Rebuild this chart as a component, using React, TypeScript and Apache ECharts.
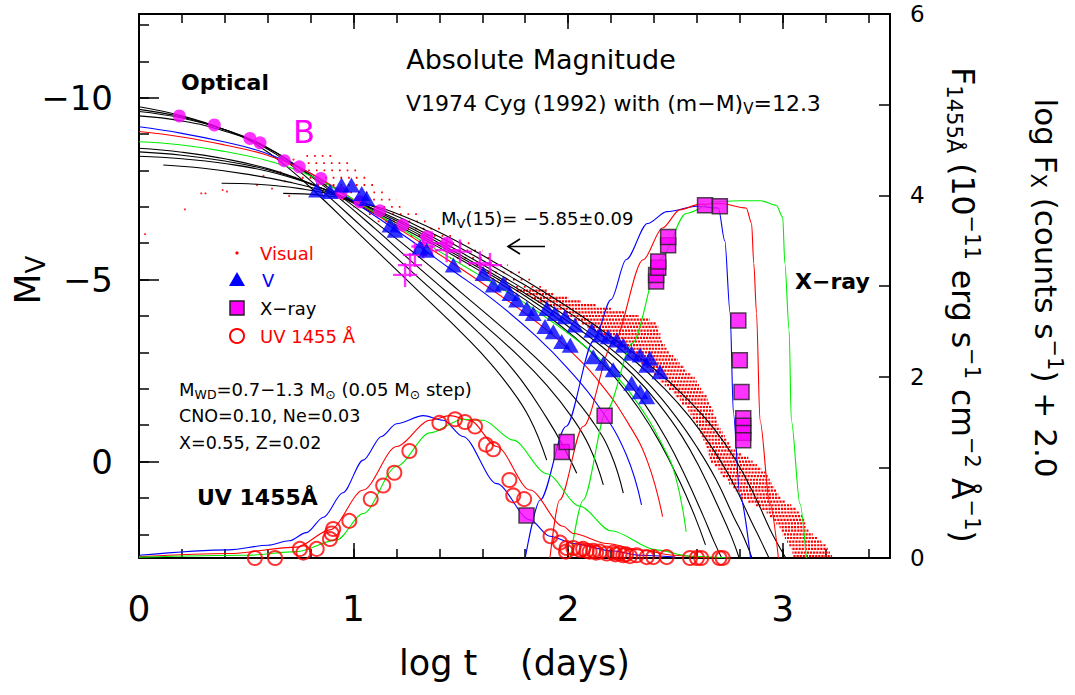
import React, { useEffect, useRef } from 'react';
import * as echarts from 'echarts';

const FONT = 'DejaVu Sans';
const RED = '#ff0000';
const BLUE = '#0000ff';
const GREEN = '#00ee00';
const MAG = '#ff00ff';

// ---- observations (x = log t, y = M_V) ----
const bObs = [[0.188,-9.5],[0.351,-9.25],[0.517,-8.88],[0.564,-8.76],[0.677,-8.27],[0.747,-8.1],[0.848,-7.78],[0.941,-7.39],[1.03,-7.14],[1.123,-6.89],[1.229,-6.5],[1.341,-6.18],[1.434,-6.0]];
const vObs = [[0.828,-7.46],[0.89,-7.42],[0.944,-7.6],[0.99,-7.6],[1.038,-7.37],[1.061,-7.23],[1.17,-6.5],[1.193,-6.36],[1.31,-5.9],[1.34,-5.81],[1.465,-5.4],[1.604,-5.17],[1.651,-4.85],[1.698,-4.9],[1.729,-4.62],[1.76,-4.44],[1.807,-4.21],[1.837,-4.07],[1.9,-4.21],[1.938,-4.07],[1.985,-3.98],[2.032,-3.75],[1.892,-3.71],[1.931,-3.57],[1.97,-3.3],[2.01,-3.2],[2.11,-3.61],[2.148,-3.48],[2.187,-3.43],[2.226,-3.34],[2.257,-3.2],[2.296,-2.98],[2.335,-2.93],[2.381,-2.84],[2.366,-2.65],[2.428,-2.47],[2.117,-2.88],[2.164,-2.7],[2.21,-2.52],[2.296,-2.15],[2.335,-1.92],[2.366,-1.78]];
const crossObs = [[1.24,-5.13],[1.263,-5.4],[1.286,-5.68],[1.325,-5.91],[1.364,-6.0],[1.434,-5.81],[1.496,-5.77],[1.589,-5.45],[1.636,-5.4]];
const visualDots = [[0.028,-6.25],[0.214,-6.93],[0.29,-7.37],[0.31,-7.37],[0.39,-7.46],[0.41,-7.42],[0.55,-7.6],[0.58,-7.85],[0.62,-7.5],[0.66,-7.95],[0.7,-7.3],[0.72,-8.3],[0.68,-7.7]];
// visual estimates: rows [xStart, xEnd, M_V]
const visualSparseRows = [[0.78,0.9,-8.4],[0.76,0.98,-8.2],[0.74,1.02,-8.0],[0.72,1.06,-7.8],[0.8,1.1,-7.6],[0.86,1.14,-7.4],[0.94,1.2,-7.2],[1.0,1.24,-7.0],[1.05,1.3,-6.8],[1.1,1.36,-6.6],[1.18,1.42,-6.4],[1.24,1.48,-6.2],[1.3,1.54,-6.0],[1.38,1.6,-5.8],[1.45,1.66,-5.6],[1.52,1.72,-5.4],[1.58,1.78,-5.2],[1.64,1.84,-5.0],[1.7,1.88,-4.8]];
const visualDenseRows = [[1.76,1.9,-4.7],[1.8,1.93,-4.6],[1.83,2.0,-4.5],[1.86,2.06,-4.4],[1.9,2.13,-4.3],[1.94,2.2,-4.2],[1.98,2.27,-4.1],[2.0,2.33,-4.0],[2.03,2.38,-3.9],[2.06,2.41,-3.8],[2.09,2.42,-3.7],[2.12,2.42,-3.6],[2.15,2.43,-3.5],[2.17,2.43,-3.4],[2.2,2.44,-3.3],[2.23,2.45,-3.2],[2.26,2.46,-3.1],[2.28,2.47,-3.0],[2.3,2.49,-2.9],[2.32,2.51,-2.8],[2.34,2.52,-2.7],[2.36,2.54,-2.6],[2.38,2.55,-2.5],[2.4,2.57,-2.4],[2.42,2.59,-2.3],[2.43,2.6,-2.2],[2.45,2.61,-2.1],[2.47,2.62,-2.0],[2.49,2.63,-1.9],[2.5,2.645,-1.8],[2.52,2.65,-1.7],[2.53,2.66,-1.6],[2.55,2.67,-1.5],[2.56,2.676,-1.4],[2.57,2.68,-1.3],[2.58,2.69,-1.2],[2.59,2.695,-1.1],[2.6,2.7,-1.0],[2.61,2.71,-0.9],[2.615,2.72,-0.8],[2.62,2.73,-0.7],[2.63,2.74,-0.6],[2.64,2.75,-0.5],[2.645,2.76,-0.4],[2.65,2.78,-0.3],[2.655,2.81,-0.2],[2.66,2.84,-0.1],[2.665,2.86,0.0],[2.68,2.88,0.1],[2.7,2.9,0.2],[2.71,2.92,0.3],[2.72,2.93,0.4],[2.74,2.94,0.5],[2.75,2.95,0.6],[2.77,2.96,0.7],[2.78,2.97,0.8],[2.8,2.98,0.9],[2.81,2.99,1.0],[2.84,3.01,1.1],[2.87,3.04,1.2],[2.9,3.06,1.3],[2.925,3.08,1.4],[2.94,3.09,1.5],[2.955,3.1,1.6],[2.97,3.105,1.7],[2.985,3.11,1.8],[2.995,3.12,1.9],[3.0,3.14,2.0],[3.01,3.16,2.1],[3.02,3.18,2.2],[3.03,3.2,2.3],[3.04,3.21,2.4],[3.045,3.22,2.5],[3.05,3.23,2.6]];

// ---- observations on right axis ----
const xrayObs = [[1.806,0.47],[1.97,1.17],[1.993,1.28],[2.17,1.57],[2.41,3.05],[2.41,3.12],[2.42,3.2],[2.42,3.27],[2.466,3.45],[2.466,3.54],[2.638,3.89],[2.707,3.88],[2.793,2.62],[2.8,2.18],[2.808,1.83],[2.816,1.54],[2.816,1.46],[2.816,1.38],[2.816,1.3]];
const uvObs = [[0.54,0.0],[0.634,0.0],[0.75,0.1],[0.766,0.06],[0.828,0.1],[0.89,0.21],[0.898,0.27],[0.905,0.32],[0.98,0.41],[1.08,0.65],[1.138,0.8],[1.19,0.94],[1.26,1.18],[1.4,1.49],[1.473,1.53],[1.519,1.5],[1.566,1.45],[1.617,1.25],[1.651,1.2],[1.726,0.86],[1.744,0.69],[1.795,0.65],[1.918,0.24],[1.962,0.17],[1.993,0.11],[1.99,0.07],[2.024,0.11],[2.055,0.09],[2.07,0.1],[2.086,0.08],[2.1,0.07],[2.117,0.08],[2.13,0.06],[2.148,0.07],[2.18,0.05],[2.21,0.06],[2.22,0.04],[2.24,0.05],[2.257,0.03],[2.27,0.04],[2.288,0.02],[2.319,0.03],[2.366,0.01],[2.397,0.01],[2.459,0.01],[2.568,0.0],[2.6,0.0],[2.62,0.0],[2.705,0.0],[2.72,0.0]];

// ---- model light curves (M_V) ----
const mA1 = [[0,-9.75],[0.2,-9.5],[0.4,-9.12],[0.55,-8.7],[0.7,-8.05],[0.85,-7.25],[1.0,-6.4],[1.15,-5.55],[1.3,-4.7],[1.45,-3.85],[1.6,-2.95],[1.72,-2.1],[1.82,-1.2],[1.9,-0.04]];
const mA2 = [[0,-9.68],[0.2,-9.47],[0.4,-9.12],[0.55,-8.75],[0.72,-8.1],[0.88,-7.3],[1.04,-6.45],[1.2,-5.6],[1.35,-4.8],[1.5,-4.0],[1.65,-3.15],[1.78,-2.25],[1.9,-1.2],[1.97,-0.5],[2.04,0.32]];
const mA3 = [[0,-9.62],[0.2,-9.44],[0.4,-9.12],[0.57,-8.72],[0.75,-8.05],[0.92,-7.3],[1.1,-6.4],[1.27,-5.5],[1.43,-4.68],[1.6,-3.8],[1.76,-2.95],[1.9,-2.1],[2.02,-1.2],[2.1,-0.4],[2.164,0.64]];
const mA4 = [[0,-9.5],[0.2,-9.36],[0.4,-9.08],[0.6,-8.62],[0.78,-7.95],[0.96,-7.2],[1.14,-6.4],[1.32,-5.55],[1.5,-4.65],[1.68,-3.75],[1.85,-2.85],[2.0,-1.95],[2.12,-1.05],[2.2,-0.2],[2.257,0.87]];
const mBlue = [[0,-9.2],[0.2,-9.02],[0.4,-8.78],[0.58,-8.5],[0.75,-8.08],[0.9,-7.55],[1.05,-6.95],[1.25,-6.15],[1.45,-5.3],[1.65,-4.45],[1.85,-3.45],[2.0,-2.55],[2.15,-1.45],[2.27,-0.2],[2.342,1.19]];
const mRed = [[0,-9.07],[0.2,-8.92],[0.4,-8.7],[0.58,-8.45],[0.75,-8.07],[0.9,-7.58],[1.05,-7.0],[1.25,-6.25],[1.45,-5.5],[1.65,-4.7],[1.85,-3.85],[2.0,-3.1],[2.15,-2.15],[2.28,-1.05],[2.37,0.0],[2.44,1.51]];
const mGreen = [[0,-8.79],[0.2,-8.7],[0.4,-8.52],[0.58,-8.3],[0.75,-7.98],[0.9,-7.55],[1.05,-7.02],[1.25,-6.3],[1.45,-5.6],[1.65,-4.9],[1.85,-4.15],[2.05,-3.3],[2.2,-2.5],[2.33,-1.55],[2.44,-0.45],[2.5,0.4],[2.55,1.93]];
const mB1 = [[0,-8.61],[0.2,-8.5],[0.4,-8.32],[0.6,-8.05],[0.8,-7.64],[1.0,-7.1],[1.2,-6.5],[1.4,-5.88],[1.6,-5.2],[1.8,-4.45],[1.95,-3.8],[2.1,-3.05],[2.22,-2.3],[2.33,-1.45],[2.43,-0.5],[2.52,0.55],[2.59,1.5],[2.64,2.29]];
const mB2 = [[0,-8.51],[0.2,-8.42],[0.4,-8.26],[0.6,-8.02],[0.8,-7.63],[1.0,-7.13],[1.2,-6.56],[1.4,-5.94],[1.6,-5.27],[1.8,-4.55],[1.97,-3.85],[2.12,-3.13],[2.25,-2.38],[2.36,-1.55],[2.46,-0.6],[2.55,0.45],[2.63,1.5],[2.68,2.2],[2.72,2.7]];
const mB3 = [[0,-8.39],[0.2,-8.32],[0.4,-8.19],[0.6,-7.98],[0.8,-7.63],[1.0,-7.16],[1.2,-6.62],[1.4,-6.0],[1.6,-5.33],[1.8,-4.62],[2.0,-3.85],[2.16,-3.15],[2.3,-2.4],[2.42,-1.6],[2.53,-0.7],[2.62,0.25],[2.7,1.25],[2.76,2.05],[2.8,2.7]];
const mB4 = [[0.113,-8.15],[0.3,-8.06],[0.5,-7.9],[0.7,-7.68],[0.9,-7.37],[1.1,-6.93],[1.3,-6.38],[1.5,-5.75],[1.7,-5.07],[1.9,-4.35],[2.08,-3.62],[2.24,-2.9],[2.38,-2.1],[2.5,-1.25],[2.6,-0.4],[2.69,0.5],[2.77,1.5],[2.82,2.1],[2.86,2.7]];
const mB5 = [[0.385,-7.65],[0.55,-7.62],[0.75,-7.5],[0.95,-7.27],[1.15,-6.87],[1.35,-6.32],[1.55,-5.7],[1.75,-5.02],[1.95,-4.3],[2.13,-3.58],[2.3,-2.82],[2.45,-2.0],[2.57,-1.2],[2.68,-0.3],[2.77,0.6],[2.85,1.6],[2.9,2.2],[2.94,2.7]];
const mB6 = [[0.672,-7.37],[0.85,-7.32],[1.05,-7.1],[1.25,-6.7],[1.45,-6.15],[1.65,-5.5],[1.85,-4.8],[2.05,-4.05],[2.23,-3.3],[2.4,-2.55],[2.55,-1.75],[2.68,-0.9],[2.78,-0.05],[2.87,0.95],[2.94,1.85],[2.98,2.3],[3.02,2.7]];
const blackModels = [mA1, mA2, mA3, mA4, mB1, mB2, mB3, mB4, mB5, mB6];

// ---- model X-ray and UV curves (right axis) ----
const xBlue = [[1.8,0],[1.87,0.64],[1.99,1.45],[2.12,2.4],[2.2,2.85],[2.27,3.29],[2.37,3.69],[2.46,3.82],[2.6,3.88],[2.7,3.86],[2.73,3.5],[2.755,2.7],[2.77,1.6],[2.8,0.7],[2.85,0]];
const xRed = [[1.915,0],[1.96,0.64],[2.07,1.45],[2.21,2.37],[2.35,3.29],[2.44,3.64],[2.52,3.84],[2.61,3.9],[2.71,3.91],[2.83,3.86],[2.855,3.69],[2.865,3.25],[2.878,2.7],[2.894,1.52],[2.94,0.6],[2.98,0]];
const xGreen = [[2.01,0],[2.07,0.64],[2.18,1.63],[2.3,2.37],[2.43,3.3],[2.55,3.8],[2.69,3.93],[2.8,3.94],[2.9,3.94],[2.97,3.89],[3.0,3.76],[3.01,3.25],[3.03,2.51],[3.04,1.52],[3.08,0.6],[3.11,0]];
const uvBlue = [[0,0.03],[0.42,0.09],[0.6,0.14],[0.7,0.19],[0.78,0.28],[0.86,0.45],[0.95,0.72],[1.045,1.08],[1.13,1.34],[1.2,1.48],[1.325,1.57],[1.418,1.52],[1.51,1.34],[1.667,0.82],[1.822,0.42],[1.915,0.24],[2.024,0.16],[2.2,0.08],[2.335,0.03],[2.5,0.01]];
const uvRed = [[0,0.015],[0.42,0.05],[0.735,0.12],[0.89,0.31],[1.045,0.75],[1.2,1.23],[1.356,1.52],[1.449,1.57],[1.542,1.52],[1.667,1.23],[1.822,0.75],[1.977,0.35],[2.024,0.27],[2.18,0.16],[2.335,0.09],[2.49,0.03],[2.65,0.0]];
const uvGreen = [[0,0.01],[0.5,0.03],[0.735,0.07],[0.921,0.2],[1.045,0.49],[1.2,1.01],[1.356,1.38],[1.51,1.53],[1.604,1.52],[1.744,1.3],[1.9,0.93],[2.055,0.57],[2.2,0.3],[2.41,0.09],[2.57,0.02],[2.75,0.0]];

// ---- axis ticks ----
const xMajorTicks = [0, 1, 2, 3];
const mvMajorTicks = [-10, -5, 0];
const mvMinorTicks = [-12, -11, -10, -9, -8, -7, -6, -5, -4, -3, -2, -1, 0, 1, 2];
const MV_MIN = -12.3;
const MV_MAX = 2.65;

const minus = (v: number) => (v < 0 ? '\u2212' + Math.abs(v) : String(v));

function modelLine(data: number[][], color: string, yAxisIndex = 0, mono = false) {
  return {
    type: 'line', data, xAxisIndex: 0, yAxisIndex, symbol: 'none', showSymbol: false,
    smooth: mono ? 0.3 : 0.45, smoothMonotone: mono ? 'x' : undefined, silent: true, z: 3,
    lineStyle: { color, width: 1.1 },
  };
}

function rowSeries(rows: number[][], dash: number[], width: number) {
  return {
    type: 'custom', xAxisIndex: 0, yAxisIndex: 0, silent: true, z: 1, clip: true,
    encode: { x: [0, 1], y: 2 },
    data: rows,
    renderItem: (params: any, api: any) => {
      const a = api.coord([api.value(0), api.value(2)]);
      const b = api.coord([api.value(1), api.value(2)]);
      return {
        type: 'line',
        shape: { x1: a[0], y1: a[1], x2: b[0], y2: b[1] },
        style: { stroke: RED, lineWidth: width, lineDash: dash, lineDashOffset: (params.dataIndex * 2.3) % (dash[0] + dash[1]) },
      };
    },
  };
}

function txt(x: number, y: number, text: string, size: number, extra: any = {}) {
  return {
    type: 'text', x, y, silent: true, z: 50,
    style: { text, fontSize: size, fontFamily: FONT, fill: '#000', align: 'left', verticalAlign: 'middle', ...extra },
  };
}

const xAxisBase = (position: string, interval: number, tickLen: number, showLine: boolean, showLabel: boolean) => ({
  type: 'value', min: 0, max: 3.5, interval, position, gridIndex: 0,
  axisLine: { show: showLine, onZero: false, lineStyle: { color: '#000', width: 2 } },
  axisTick: { show: true, inside: true, length: tickLen, lineStyle: { color: '#000', width: 1.5 } },
  axisLabel: {
    show: showLabel, fontSize: 36, margin: 32, color: '#000', fontFamily: FONT,
    formatter: (v: number) => (xMajorTicks.includes(v) ? String(v) : ''),
  },
  splitLine: { show: false },
});

export default function App() {
  const ref = useRef<HTMLDivElement>(null);
  useEffect(() => {
    document.body.style.margin = '0';
    const chart = echarts.init(ref.current!, null, { renderer: 'svg' });
    const subS = (fs: number, pad: number) => ({ fontSize: fs, fontFamily: FONT, fill: '#000', padding: [pad, 0, 0, 0] });
    const supS = (fs: number, pad: number) => ({ fontSize: fs, fontFamily: FONT, fill: '#000', padding: [0, 0, pad, 0] });
    const option: any = {
      animation: false,
      backgroundColor: '#ffffff',
      grid: { left: 139, right: 185, top: 14, bottom: 137, containLabel: false },
      xAxis: [
        xAxisBase('bottom', 1, 15, true, true),
        xAxisBase('bottom', 0.2, 9, false, false),
        xAxisBase('top', 1, 15, true, false),
        xAxisBase('top', 0.2, 9, false, false),
      ],
      yAxis: [
        {
          type: 'value', min: MV_MIN, max: MV_MAX, inverse: true, position: 'left',
          axisLine: { show: true, onZero: false, lineStyle: { color: '#000', width: 2 } },
          axisTick: { show: true, inside: true, length: 20, customValues: mvMajorTicks, lineStyle: { color: '#000', width: 1.5 } },
          axisLabel: { show: true, customValues: mvMajorTicks, fontSize: 34, margin: 26, color: '#000', fontFamily: FONT, formatter: (v: number) => minus(v) },
          splitLine: { show: false },
        },
        {
          type: 'value', min: 0, max: 6, interval: 1, position: 'right',
          axisLine: { show: true, onZero: false, lineStyle: { color: '#000', width: 2 } },
          axisTick: { show: true, inside: true, length: 11, lineStyle: { color: '#000', width: 1.5 } },
          axisLabel: { show: true, fontSize: 23, margin: 20, color: '#000', fontFamily: FONT, formatter: (v: number) => (v % 2 === 0 ? String(v) : '') },
          splitLine: { show: false },
        },
        {
          type: 'value', min: MV_MIN, max: MV_MAX, inverse: true, position: 'left',
          axisLine: { show: false, onZero: false },
          axisTick: { show: true, inside: true, length: 10, customValues: mvMinorTicks, lineStyle: { color: '#000', width: 1.5 } },
          axisLabel: { show: false },
          splitLine: { show: false },
        },
      ],
      series: [
        rowSeries(visualSparseRows, [1.7, 6], 1.8),
        rowSeries(visualDenseRows, [2.2, 0.9], 2.2),
        { type: 'scatter', data: visualDots, xAxisIndex: 0, yAxisIndex: 0, symbol: 'circle', symbolSize: 2.2, itemStyle: { color: RED }, silent: true, z: 1 },
        ...blackModels.map((d) => modelLine(d, '#000')),
        modelLine(mBlue, BLUE),
        modelLine(mRed, RED),
        modelLine(mGreen, GREEN),
        modelLine(xBlue, BLUE, 1, true),
        modelLine(xRed, RED, 1, true),
        modelLine(xGreen, GREEN, 1, true),
        modelLine(uvBlue, BLUE, 1, true),
        modelLine(uvRed, RED, 1, true),
        modelLine(uvGreen, GREEN, 1, true),
        { type: 'scatter', data: bObs, xAxisIndex: 0, yAxisIndex: 0, symbol: 'circle', symbolSize: 13, itemStyle: { color: MAG }, silent: true, z: 5 },
        { type: 'scatter', data: crossObs, xAxisIndex: 0, yAxisIndex: 0, symbol: 'path://M9,0H11V20H9Z M0,9H20V11H0Z', symbolSize: 24, itemStyle: { color: MAG }, silent: true, z: 6 },
        { type: 'scatter', data: vObs, xAxisIndex: 0, yAxisIndex: 0, symbol: 'triangle', symbolSize: [17, 15], itemStyle: { color: BLUE }, silent: true, z: 6 },
        { type: 'scatter', data: xrayObs, xAxisIndex: 0, yAxisIndex: 1, symbol: 'rect', symbolSize: 15, itemStyle: { color: MAG, borderColor: '#222', borderWidth: 1.5 }, silent: true, z: 7 },
        { type: 'scatter', data: uvObs, xAxisIndex: 0, yAxisIndex: 1, symbol: 'circle', symbolSize: 14, itemStyle: { color: 'rgba(0,0,0,0)', borderColor: RED, borderWidth: 2 }, silent: true, z: 7 },
      ],
      graphic: [
        txt(541, 59, 'Absolute Magnitude', 27, { align: 'center' }),
        txt(406, 103, 'V1974 Cyg (1992) with (m\u2212M){s|V}=12.3', 22, { rich: { s: subS(15, 12) } }),
        txt(181, 82, 'Optical', 22, { fontWeight: 'bold' }),
        txt(304, 132, 'B', 32, { align: 'center', fill: MAG }),
        txt(441, 218, 'M{s|V}(15)= \u22125.85\u00b10.09', 18, { rich: { s: subS(13, 11) } }),
        { type: 'line', silent: true, z: 50, shape: { x1: 508, y1: 246.5, x2: 545, y2: 246.5 }, style: { stroke: '#000', lineWidth: 1.6 } },
        { type: 'polyline', silent: true, z: 50, shape: { points: [[520, 239], [508, 246.5], [520, 254]] }, style: { stroke: '#000', lineWidth: 1.6, fill: null } },
        { type: 'circle', silent: true, z: 50, shape: { cx: 237, cy: 253, r: 1.6 }, style: { fill: RED } },
        txt(260, 253, 'Visual', 18, { fill: RED }),
        { type: 'polygon', silent: true, z: 50, shape: { points: [[229, 286], [245, 286], [237, 272]] }, style: { fill: BLUE } },
        txt(262, 280, 'V', 18, { fill: BLUE }),
        { type: 'rect', silent: true, z: 50, shape: { x: 230, y: 301, width: 14, height: 14 }, style: { fill: MAG, stroke: '#222', lineWidth: 1.5 } },
        txt(260, 308, 'X\u2212ray', 18),
        { type: 'circle', silent: true, z: 50, shape: { cx: 237, cy: 336, r: 7 }, style: { fill: null, stroke: RED, lineWidth: 2 } },
        txt(260, 336, 'UV 1455 \u00c5', 18, { fill: RED }),
        txt(179, 389, 'M{s|WD}=0.7\u22121.3 M{s|\u2299} (0.05 M{s|\u2299} step)', 18, { rich: { s: subS(12.5, 11) } }),
        txt(179, 416, 'CNO=0.10, Ne=0.03', 17.5),
        txt(179, 443, 'X=0.55, Z=0.02', 17.5),
        txt(197, 497, 'UV 1455\u00c5', 22, { fontWeight: 'bold' }),
        txt(795, 281, 'X\u2212ray', 22, { fontWeight: 'bold' }),
        // axis titles
        txt(399, 663, 'log t', 35),
        txt(520, 663, '(days)', 35),
        {
          type: 'text', x: 27, y: 280, rotation: Math.PI / 2, silent: true, z: 50,
          style: { text: 'M{s|V}', fontSize: 36, fontFamily: FONT, fill: '#000', align: 'center', verticalAlign: 'middle', rich: { s: subS(26, 18) } },
        },
        {
          type: 'text', x: 963, y: 305, rotation: -Math.PI / 2, silent: true, z: 50,
          style: {
            text: 'F{s|1455\u00c5} (10{p|\u221211} erg s{p|\u22121} cm{p|\u22122} \u00c5{p|\u22121})',
            fontSize: 31.5, fontFamily: FONT, fill: '#000', align: 'center', verticalAlign: 'middle',
            rich: { s: subS(21, 18), p: supS(21, 18) },
          },
        },
        {
          type: 'text', x: 1046, y: 288, rotation: -Math.PI / 2, silent: true, z: 50,
          style: {
            text: 'log F{s|X} (counts s{p|\u22121}) + 2.0',
            fontSize: 31, fontFamily: FONT, fill: '#000', align: 'center', verticalAlign: 'middle',
            rich: { s: subS(21, 17), p: supS(21, 17) },
          },
        },
      ],
    };
    chart.setOption(option);
    return () => chart.dispose();
  }, []);
  return <div ref={ref} style={{ width: 1075, height: 695, background: '#fff' }} />;
}
